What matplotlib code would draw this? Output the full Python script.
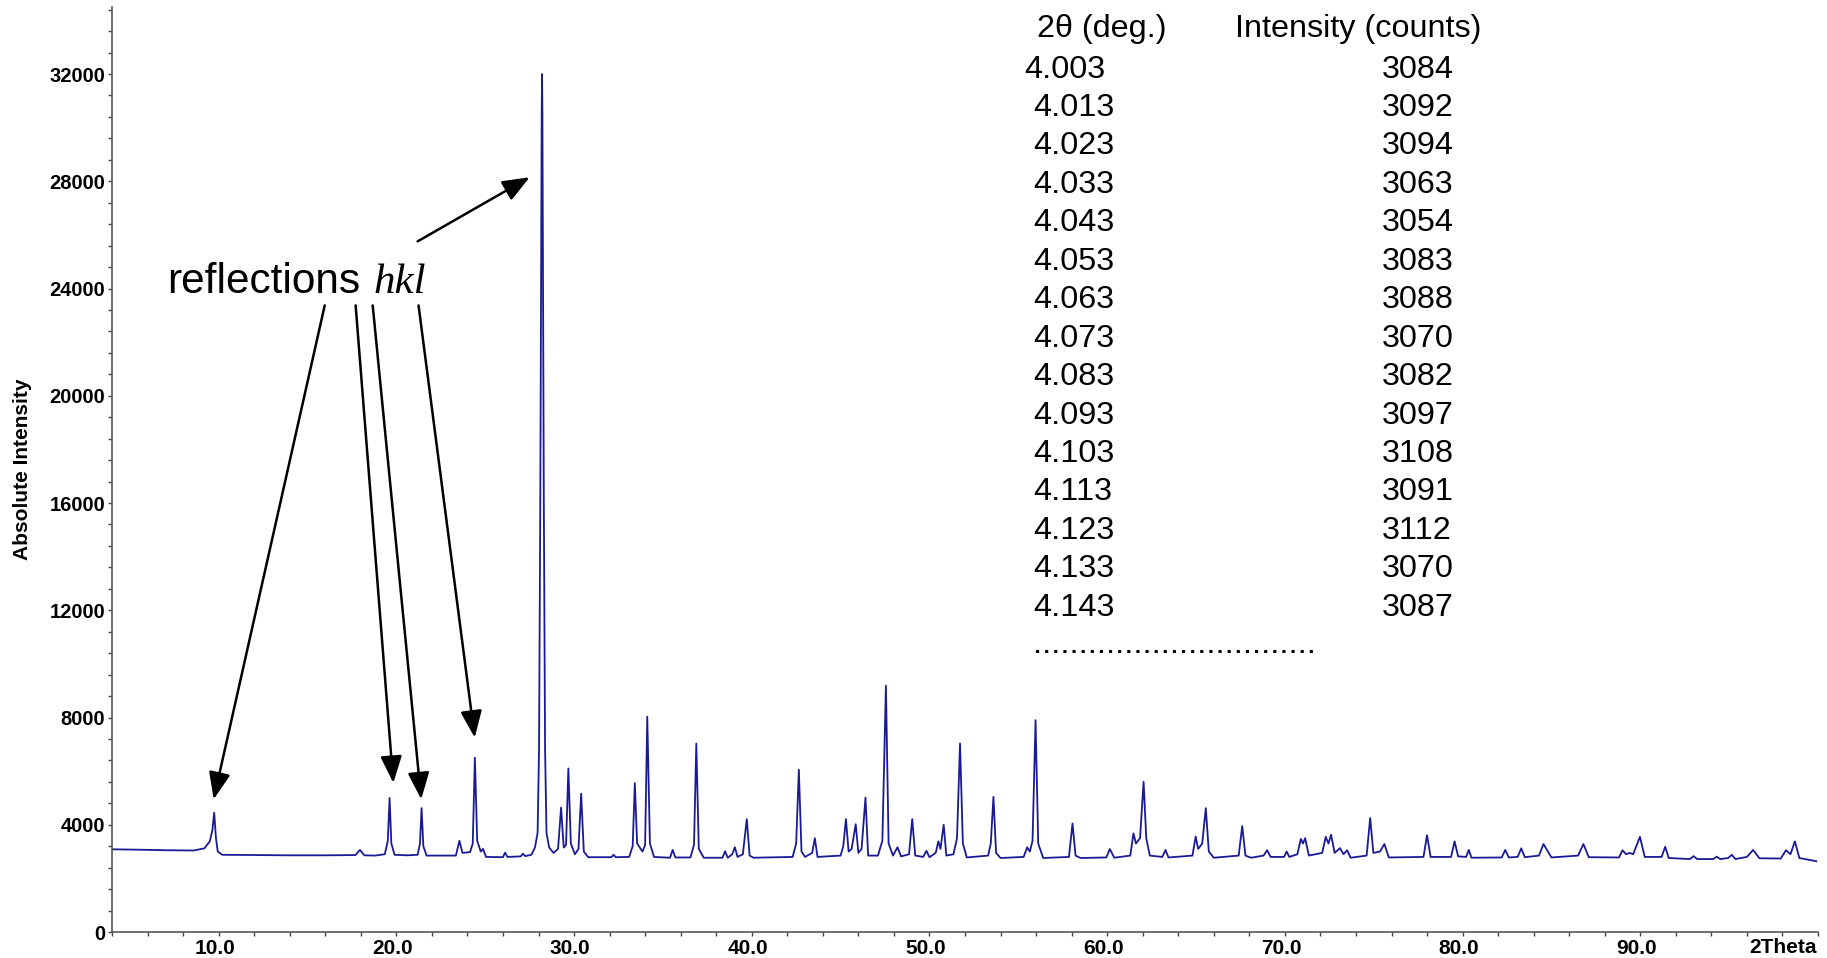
import matplotlib
matplotlib.use("Agg")
import matplotlib.pyplot as plt
from matplotlib.ticker import MultipleLocator, FixedLocator
from matplotlib.transforms import ScaledTranslation

# diffraction trace, vertices (2theta in deg, counts)
theta = [
    4.00, 5.50, 7.00, 8.60, 9.20, 9.50, 9.65, 9.75, 9.85, 9.95, 10.20,
    12.00, 14.00, 16.00, 17.70, 17.95, 18.20, 18.80, 19.35, 19.52, 19.62, 19.72, 19.90,
    20.60, 21.20, 21.33, 21.42, 21.52, 21.70,
    23.35, 23.55, 23.72, 24.15, 24.30, 24.42, 24.55, 24.75, 24.88, 25.05,
    26.00, 26.12, 26.25, 27.00, 27.12, 27.25,
    27.60, 27.80, 27.95, 28.03, 28.10, 28.18, 28.20, 28.22, 28.30, 28.37, 28.45, 28.60, 28.85,
    29.10, 29.27, 29.42, 29.55, 29.68, 29.82, 30.05, 30.25, 30.40, 30.55, 30.80,
    32.10, 32.22, 32.35, 33.10, 33.30, 33.42, 33.55, 33.85, 34.00, 34.12, 34.27, 34.50,
    35.40, 35.55, 35.70, 36.55, 36.75, 36.88, 37.02, 37.30,
    38.35, 38.50, 38.65, 38.90, 39.05, 39.20, 39.50, 39.72, 39.88, 40.10,
    42.30, 42.50, 42.65, 42.80, 43.00, 43.40, 43.55, 43.70,
    45.00, 45.15, 45.30, 45.45, 45.62, 45.85, 46.00, 46.18, 46.40, 46.55,
    47.10, 47.35, 47.55, 47.70, 47.95, 48.20, 48.40, 48.85, 49.03, 49.20,
    49.65, 49.83, 50.00, 50.35, 50.50, 50.62, 50.80, 50.95,
    51.35, 51.55, 51.72, 51.88, 52.10,
    53.30, 53.45, 53.60, 53.75, 54.00,
    55.30, 55.50, 55.65, 55.80, 55.97, 56.12, 56.40,
    57.85, 58.05, 58.22, 58.50,
    59.95, 60.15, 60.40,
    61.30, 61.48, 61.62, 61.85, 62.05, 62.20, 62.40, 63.10, 63.28, 63.45,
    64.80, 64.98, 65.12, 65.35, 65.55, 65.72, 66.00,
    67.40, 67.60, 67.78, 68.10,
    68.80, 69.00, 69.20, 69.95, 70.10, 70.25,
    70.70, 70.90, 71.02, 71.14, 71.35, 72.10, 72.30, 72.45, 72.60, 72.80, 73.10, 73.30, 73.50, 73.70,
    74.60, 74.80, 74.98, 75.35, 75.60, 75.85,
    77.80, 78.00, 78.20,
    79.35, 79.55, 79.75, 80.20, 80.35, 80.50,
    82.20, 82.40, 82.60, 83.10, 83.30, 83.50,
    84.30, 84.55, 84.80, 85.00,
    86.50, 86.80, 87.10,
    88.80, 89.00, 89.20, 89.40, 89.60, 89.98, 90.25,
    91.20, 91.40, 91.60,
    92.80, 93.00, 93.20, 94.10, 94.30, 94.50, 94.95, 95.15, 95.35,
    96.00, 96.35, 96.70,
    97.90, 98.20, 98.45, 98.70, 98.95, 99.90,
]
counts = [
    3084, 3070, 3050, 3040, 3120, 3380, 3800, 4450, 3500, 3000, 2880,
    2870, 2860, 2860, 2870, 3060, 2860, 2850, 2900, 3400, 5000, 3300, 2880,
    2860, 2880, 3300, 4620, 3200, 2850,
    2850, 3400, 2950, 2980, 3300, 6500, 3400, 3000, 3100, 2800,
    2790, 2960, 2800, 2820, 2920, 2830,
    2880, 3150, 3700, 6800, 16000, 30500, 32000, 30500, 16000, 6800, 3700, 3150, 2950,
    3100, 4640, 3150, 3250, 6100, 3300, 2900, 3100, 5160, 3000, 2790,
    2790, 2880, 2790, 2800, 3200, 5550, 3300, 3000, 3250, 8030, 3300, 2800,
    2770, 3060, 2780, 2780, 3250, 7030, 3100, 2770,
    2770, 3010, 2770, 2900, 3160, 2800, 2900, 4210, 2850, 2770,
    2800, 3300, 6050, 3000, 2800, 2950, 3500, 2800,
    2850, 3200, 4210, 3000, 3100, 4020, 2950, 3100, 5010, 2850,
    2850, 3400, 9190, 3300, 2850, 3160, 2820, 2900, 4210, 2850,
    2800, 3030, 2790, 2950, 3380, 3100, 4000, 2850,
    2900, 3500, 7030, 3300, 2780,
    2850, 3300, 5040, 2950, 2760,
    2800, 3160, 3000, 3400, 7900, 3300, 2760,
    2800, 4050, 2850, 2760,
    2780, 3095, 2770,
    2850, 3680, 3300, 3500, 5600, 3500, 2850, 2800, 3060, 2780,
    2850, 3560, 3100, 3300, 4620, 3000, 2770,
    2850, 3950, 2850, 2770,
    2850, 3050, 2800, 2800, 3000, 2800,
    2900, 3470, 3300, 3500, 2850, 2950, 3550, 3300, 3630, 2950, 3130, 2900, 3050, 2770,
    2850, 4250, 2950, 3000, 3280, 2780,
    2800, 3610, 2800,
    2800, 3380, 2820, 2800, 3060, 2770,
    2780, 3060, 2780, 2800, 3120, 2790,
    2850, 3280, 3000, 2780,
    2850, 3280, 2790,
    2780, 3050, 2900, 2950, 2900, 3550, 2800,
    2800, 3180, 2760,
    2720, 2830, 2720, 2720, 2810, 2720, 2760, 2880, 2720,
    2800, 3060, 2750,
    2740, 3050, 2900, 3380, 2760, 2640,
]
assert len(theta) == len(counts)

# raw data excerpt shown as a table
table_theta = ["4.003", "4.013", "4.023", "4.033", "4.043", "4.053", "4.063", "4.073",
               "4.083", "4.093", "4.103", "4.113", "4.123", "4.133", "4.143"]
table_counts = ["3084", "3092", "3094", "3063", "3054", "3083", "3088", "3070",
                "3082", "3097", "3108", "3091", "3112", "3070", "3087"]

# annotated reflections: (arrow tip 2theta, tip counts, tail 2theta, tail counts)
arrow_tip_theta = [9.72, 19.83, 21.40, 24.41, 27.50]
arrow_tip_counts = [4950, 5560, 4950, 7250, 28150]
arrow_tail_theta = [15.97, 17.71, 18.67, 21.25, 21.20]
arrow_tail_counts = [23370, 23370, 23370, 23370, 25760]

W, H = 1827, 958
fig = plt.figure(figsize=(W / 100, H / 100), dpi=100)
plt.rcParams['font.family'] = ['Liberation Sans', 'DejaVu Sans']

ax = fig.add_axes([112 / W, (H - 932) / H, (1818 - 112) / W, (932 - 7) / H])
ax.plot(theta, counts, color='#1a1a96', lw=1.3)

ax.set_xlim(4, 100)
ax.set_ylim(0, 34500)
for s in ['top', 'right']:
    ax.spines[s].set_visible(False)
for s in ['left', 'bottom']:
    ax.spines[s].set_color('#555555')
    ax.spines[s].set_linewidth(1.2)

ax.xaxis.set_major_locator(FixedLocator(range(10, 100, 10)))
ax.xaxis.set_minor_locator(MultipleLocator(2))
ax.yaxis.set_major_locator(MultipleLocator(4000))
ax.yaxis.set_minor_locator(MultipleLocator(800))
ax.set_xticklabels(["%.1f" % v for v in range(10, 100, 10)])
ax.tick_params(which='both', direction='out', length=3, width=1, color='#444444')
ax.tick_params(axis='y', which='major', labelsize=14.5, pad=2)
ax.tick_params(axis='x', which='major', labelsize=15, pad=2)
for lab in ax.get_xticklabels() + ax.get_yticklabels():
    lab.set_fontweight('bold')
for lab in ax.get_xticklabels():
    lab.set_transform(lab.get_transform() + ScaledTranslation(-0.04, 0, fig.dpi_scale_trans))

ax.set_ylabel("Absolute Intensity", fontsize=15, fontweight='bold')
ax.yaxis.set_label_coords(-0.047, 0.5)
ax.annotate("2Theta", xy=(1.0, 0), xycoords='axes fraction', xytext=(-1, -4.5),
            textcoords='offset points', ha='right', va='top',
            fontsize=15, fontweight='bold')

# arrows to the reflections
for tx, ty, sx, sy in zip(arrow_tip_theta, arrow_tip_counts, arrow_tail_theta, arrow_tail_counts):
    ax.annotate("", xy=(tx, ty), xytext=(sx, sy),
                arrowprops=dict(arrowstyle='-|>,head_length=0.55,head_width=0.22',
                                mutation_scale=30, color='black', lw=1.8,
                                shrinkA=0, shrinkB=0))


def fx(px):
    return px / W


def fy(py):
    return 1 - py / H


fig.text(fx(167), fy(293), "reflections", fontsize=30.5, va='baseline', ha='left')
fig.text(fx(373), fy(293), "hkl", fontsize=31, va='baseline', ha='left',
         family=['Liberation Serif'], style='italic')

# data table
fs = 23.3
fig.text(fx(1037), fy(37), "2\u03b8 (deg.)", fontsize=fs, va='baseline')
fig.text(fx(1235), fy(37), "Intensity (counts)", fontsize=fs, va='baseline')
for i, (a, b) in enumerate(zip(table_theta, table_counts)):
    base = 77.5 + i * 38.45
    x0 = 1024 if i == 0 else 1033
    fig.text(fx(x0), fy(base), a, fontsize=fs, va='baseline')
    fig.text(fx(1382), fy(base), b, fontsize=fs, va='baseline')
fig.text(fx(1033), fy(653), "." * 31, fontsize=fs, va='baseline')

fig.savefig("out.png", dpi=100)
